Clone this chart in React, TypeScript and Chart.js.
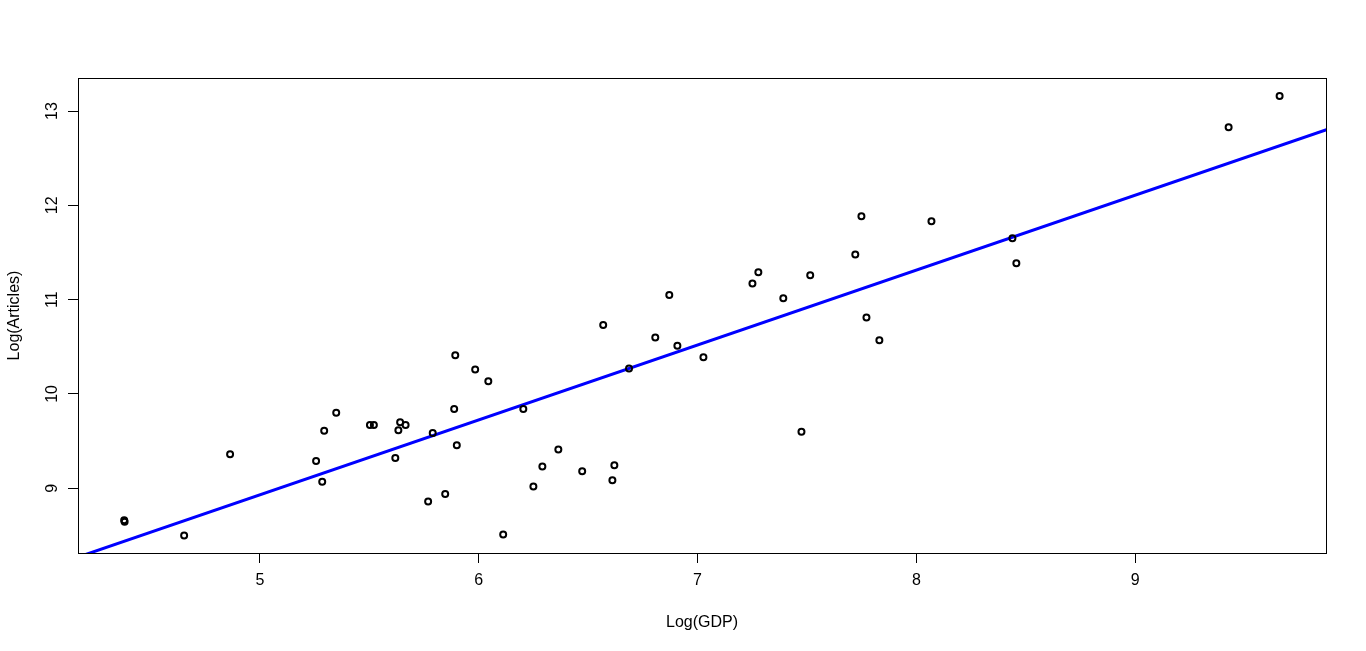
import React, { useEffect, useRef } from "react";
import { Chart, registerables } from "chart.js";

Chart.register(...registerables);

const gdpLog: number[] = [
  4.380, 4.382, 4.654, 4.864, 5.257, 5.285, 5.294, 5.349, 5.503, 5.521,
  5.619, 5.633, 5.641, 5.666, 5.769, 5.790, 5.847, 5.888, 5.893, 5.900,
  5.984, 6.044, 6.112, 6.204, 6.250, 6.291, 6.364, 6.473, 6.569, 6.611,
  6.620, 6.687, 6.807, 6.871, 6.908, 7.027, 7.251, 7.278, 7.392, 7.475,
  7.515, 7.721, 7.749, 7.772, 7.831, 8.069, 8.439, 8.457, 9.427, 9.660,
];
const articlesLog: number[] = [
  8.660, 8.645, 8.500, 9.360, 9.290, 9.070, 9.610, 9.800, 9.670, 9.670,
  9.320, 9.615, 9.700, 9.670, 8.860, 9.586, 8.940, 9.840, 10.410, 9.456,
  10.260, 10.135, 8.510, 9.840, 9.020, 9.230, 9.410, 9.180, 10.730, 9.085,
  9.244, 10.270, 10.600, 11.050, 10.510, 10.390, 11.170, 11.290, 11.015, 9.600,
  11.260, 11.480, 11.885, 10.810, 10.570, 11.830, 11.650, 11.386, 12.828, 13.160,
];
// fitted regression line
const fitIntercept = 4.96;
const fitSlope = 0.7941;
const fitXRange: number[] = [4.0, 10.0];

const xTicks: number[] = [5, 6, 7, 8, 9];
const yTicks: number[] = [9, 10, 11, 12, 13];
const xRange: number[] = [4.169, 9.872];
const yRange: number[] = [8.314, 13.35];

const FONT = "'Liberation Sans', Arial, sans-serif";

const boxPlugin = {
  id: "rbox",
  afterDraw(chart: any) {
    const { ctx, chartArea } = chart;
    ctx.save();
    ctx.strokeStyle = "#000";
    ctx.lineWidth = 1;
    ctx.strokeRect(
      Math.round(chartArea.left) + 0.5,
      Math.round(chartArea.top) + 0.5,
      Math.round(chartArea.right - chartArea.left),
      Math.round(chartArea.bottom - chartArea.top)
    );
    // rotated y tick labels, centred on their ticks (R style)
    const ys = chart.scales.y;
    ctx.fillStyle = "#000";
    ctx.font = `16px ${FONT}`;
    ctx.textAlign = "center";
    ctx.textBaseline = "alphabetic";
    for (const v of yTicks) {
      const py = ys.getPixelForValue(v);
      ctx.save();
      ctx.translate(ys.right - 21, py);
      ctx.rotate(-Math.PI / 2);
      ctx.fillText(String(v), 0, 0);
      ctx.restore();
    }
    ctx.restore();
  },
};

export default function App() {
  const ref = useRef<HTMLCanvasElement | null>(null);
  useEffect(() => {
    if (!ref.current) return;
    const points = gdpLog.map((x, i) => ({ x, y: articlesLog[i] }));
    const line = fitXRange.map((x) => ({ x, y: fitIntercept + fitSlope * x }));
    const chart = new Chart(ref.current, {
      type: "scatter",
      data: {
        datasets: [
          {
            type: "line",
            data: line,
            borderColor: "#0000FF",
            borderWidth: 3,
            pointRadius: 0,
            fill: false,
            order: 2,
          } as any,
          {
            data: points,
            pointStyle: "circle",
            pointRadius: 3,
            borderWidth: 2,
            borderColor: "#000",
            backgroundColor: "rgba(0,0,0,0)",
            order: 1,
          },
        ],
      },
      options: {
        responsive: false,
        animation: false,
        layout: { padding: { top: 78, right: 40, left: 0, bottom: 0 } },
        plugins: { legend: { display: false }, tooltip: { enabled: false } },
        scales: {
          x: {
            type: "linear",
            min: xRange[0],
            max: xRange[1],
            afterBuildTicks: (s: any) => {
              s.ticks = xTicks.map((v) => ({ value: v }));
            },
            afterFit: (s: any) => {
              s.height = 98;
            },
            grid: { drawOnChartArea: false, tickLength: 10, color: "#000", tickColor: "#000" },
            border: { display: false },
            ticks: {
              color: "#000",
              font: { family: FONT, size: 16 },
              padding: 8,
              maxRotation: 0,
              callback: (v: any) => String(v),
            },
            title: {
              display: true,
              text: "Log(GDP)",
              color: "#000",
              font: { family: FONT, size: 16 },
              padding: { top: 0, bottom: 19 },
            },
          },
          y: {
            type: "linear",
            min: yRange[0],
            max: yRange[1],
            afterBuildTicks: (s: any) => {
              s.ticks = yTicks.map((v) => ({ value: v }));
            },
            afterFit: (s: any) => {
              s.width = 78;
            },
            grid: { drawOnChartArea: false, tickLength: 10, color: "#000", tickColor: "#000" },
            border: { display: false },
            ticks: {
              color: "rgba(0,0,0,0)",
              font: { family: FONT, size: 16 },
              padding: 8,
              callback: (v: any) => String(v),
            },
            title: {
              display: true,
              text: "Log(Articles)",
              color: "#000",
              font: { family: FONT, size: 16 },
              padding: { top: 5, bottom: 0 },
            },
          },
        },
      },
      plugins: [boxPlugin],
    });
    return () => chart.destroy();
  }, []);
  return (
    <div style={{ position: "fixed", left: 0, top: 0, width: 1366, height: 651, background: "#fff" }}>
      <canvas ref={ref} width={1366} height={651} />
    </div>
  );
}
